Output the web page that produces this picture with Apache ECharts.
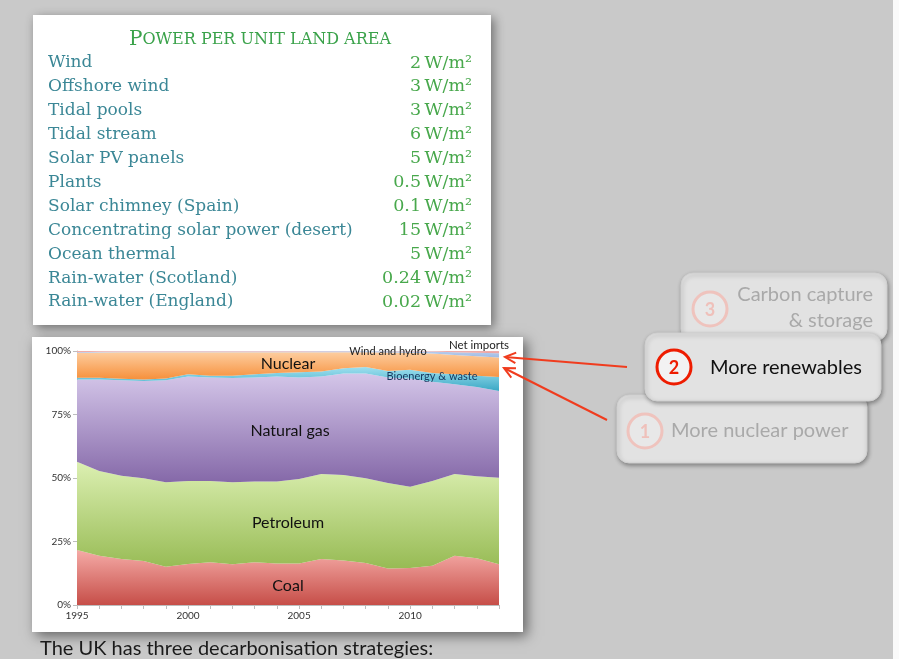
<!DOCTYPE html>
<html>
<head>
<meta charset="utf-8">
<script src="https://cdn.jsdelivr.net/npm/echarts@6/dist/echarts.min.js"></script>
<style>
  html, body { margin: 0; padding: 0; background: #c9c9c9; }
  #main { width: 899px; height: 659px; }
</style>
</head>
<body>
<div id="main"></div>
<script>
// UK primary energy mix, share in %
const years = ['1995','1996','1997','1998','1999','2000','2001','2002','2003','2004',
               '2005','2006','2007','2008','2009','2010','2011','2012','2013','2014'];
const coal      = [21.7,19.4,18.1,17.3,15.1,16.1,16.8,16.0,16.8,16.3,16.3,18.1,17.5,16.5,14.4,14.6,15.5,19.4,18.4,16.0];
const petroleum = [34.7,33.4,32.8,32.6,33.2,32.7,32.0,32.3,31.8,32.3,33.3,33.5,33.7,33.4,33.6,32.0,33.3,32.2,32.3,34.1];
const gas       = [32.4,36.0,37.6,38.3,40.2,41.2,40.8,41.1,41.0,41.4,40.0,38.4,39.9,41.2,41.6,42.6,39.1,35.3,35.1,34.2];
const bioenergy = [0.7,0.7,0.6,0.6,0.7,0.8,0.7,0.9,1.2,1.3,2.0,1.9,2.1,2.6,2.5,3.4,3.4,3.9,4.5,5.5];
const nuclear   = [9.7,9.9,10.4,10.7,10.3,8.7,9.2,9.2,8.7,8.2,7.9,7.6,6.3,5.8,7.3,6.7,7.7,7.6,7.6,7.6];
const windHydro = [0.3,0.3,0.3,0.3,0.3,0.3,0.3,0.3,0.3,0.3,0.3,0.4,0.4,0.4,0.5,0.5,0.8,1.1,1.4,1.7];
const netImports= [0.5,0.3,0.2,0.2,0.2,0.2,0.2,0.2,0.2,0.2,0.2,0.1,0.1,0.0,0.1,0.2,0.2,0.5,0.7,0.9];
const yTicks = [0, 25, 50, 75, 100];

// power per unit land area table
const sources = ['Wind','Offshore wind','Tidal pools','Tidal stream','Solar PV panels','Plants',
                 'Solar chimney (Spain)','Concentrating solar power (desert)','Ocean thermal',
                 'Rain-water (Scotland)','Rain-water (England)'];
const densities = ['2','3','3','6','5','0.5','0.1','15','5','0.24','0.02'];

const strategies = ['More nuclear power', 'More renewables', 'Carbon capture\n& storage'];

const chart = echarts.init(document.getElementById('main'));

function grad(top, bottom) {
  return new echarts.graphic.LinearGradient(0, 0, 0, 1, [
    { offset: 0, color: top },
    { offset: 1, color: bottom }
  ]);
}

function area(name, data, top, bottom) {
  return {
    name: name,
    type: 'line',
    stack: 'total',
    data: data,
    symbol: 'none',
    lineStyle: { width: 0 },
    areaStyle: { color: grad(top, bottom), opacity: 1 },
    silent: true
  };
}

const serif = '"DejaVu Serif", "Liberation Serif", serif';
const sans = 'Lato, "Open Sans", sans-serif';

const graphics = [];

// right white strip
graphics.push({ type: 'rect', z: -10, shape: { x: 893, y: 0, width: 6, height: 659 }, style: { fill: '#fafafa' } });

// table card
graphics.push({
  type: 'rect', z: -5,
  shape: { x: 33, y: 15, width: 458, height: 310 },
  style: { fill: '#fff', shadowBlur: 10, shadowColor: 'rgba(0,0,0,0.45)', shadowOffsetX: 3, shadowOffsetY: 3 }
});
graphics.push({
  type: 'text', z: 5, x: 260, y: 40,
  style: {
    text: '{a|P}{b|OWER PER UNIT LAND AREA}',
    textAlign: 'center', verticalAlign: 'middle',
    rich: {
      a: { fontFamily: serif, fontSize: 20, fill: '#3aa24a' },
      b: { fontFamily: serif, fontSize: 16, fill: '#3aa24a' }
    }
  }
});
sources.forEach(function (s, i) {
  const y = 63 + i * 23.9;
  graphics.push({
    type: 'text', z: 5, x: 48, y: y,
    style: { text: s, fontFamily: serif, fontSize: 17, fill: '#3b8796', verticalAlign: 'middle', textAlign: 'left' }
  });
  graphics.push({
    type: 'text', z: 5, x: 472, y: y,
    style: { text: densities[i] + '\u2009W/m\u00b2', fontFamily: serif, fontSize: 17.5, fill: '#48a84c', verticalAlign: 'middle', textAlign: 'right' }
  });
});

// chart card
graphics.push({
  type: 'rect', z: -5,
  shape: { x: 32, y: 337, width: 491, height: 295 },
  style: { fill: '#fff', shadowBlur: 12, shadowColor: 'rgba(0,0,0,0.5)', shadowOffsetX: 4, shadowOffsetY: 4 }
});

// labels inside the chart
function chartLabel(text, x, y, size, color) {
  graphics.push({
    type: 'text', z: 50, x: x, y: y,
    style: { text: text, fontFamily: sans, fontSize: size, fill: color || '#111', textAlign: 'center', verticalAlign: 'middle' }
  });
}
chartLabel('Nuclear', 288, 364, 16);
chartLabel('Natural gas', 290, 431, 16);
chartLabel('Petroleum', 288, 523, 16);
chartLabel('Coal', 288, 586, 16);
chartLabel('Wind and hydro', 388, 351, 11, '#222');
chartLabel('Net imports', 479, 345, 11.5, '#222');
chartLabel('Bioenergy & waste', 432, 376, 11, '#17375e');

// strategy boxes: 3, 1, 2 (drawing order)
function box(x, y, w, h) {
  graphics.push({
    type: 'rect', z: 20,
    shape: { x: x, y: y, width: w, height: h, r: 12 },
    style: { fill: '#e2e2e2', stroke: '#d0d0d0', lineWidth: 1, shadowBlur: 4, shadowColor: 'rgba(0,0,0,0.35)', shadowOffsetX: 1, shadowOffsetY: 2 }
  });
}
function badge(cx, cy, num, active) {
  graphics.push({
    type: 'circle', z: 21,
    shape: { cx: cx, cy: cy, r: 17 },
    style: { fill: active ? '#f2f2f2' : '#e8e8e8', stroke: active ? '#ee1c00' : '#efc3bd', lineWidth: 3 }
  });
  graphics.push({
    type: 'text', z: 22, x: cx, y: cy + 1,
    style: { text: num, fontFamily: sans, fontWeight: 'bold', fontSize: 18, fill: active ? '#ee1c00' : '#efc0ba', textAlign: 'center', verticalAlign: 'middle' }
  });
}
box(681, 273, 206, 68);
badge(710, 309, '3', false);
graphics.push({
  type: 'text', z: 22, x: 873, y: 308,
  style: { text: strategies[2], fontFamily: sans, fontSize: 20, lineHeight: 26, fill: '#a9a9a9', textAlign: 'right', verticalAlign: 'middle' }
});
box(617, 395, 250, 68);
badge(645, 431, '1', false);
graphics.push({
  type: 'text', z: 22, x: 671, y: 431,
  style: { text: strategies[0], fontFamily: sans, fontSize: 20, fill: '#a9a9a9', textAlign: 'left', verticalAlign: 'middle' }
});
box(645, 333, 236, 68);
badge(674, 367, '2', true);
graphics.push({
  type: 'text', z: 22, x: 710, y: 368,
  style: { text: strategies[1], fontFamily: sans, fontSize: 20, fill: '#111', textAlign: 'left', verticalAlign: 'middle' }
});

// red arrows pointing at the top of the chart
function arrow(x1, y1, x2, y2) {
  const ang = Math.atan2(y2 - y1, x2 - x1);
  const len = 12, spread = 0.45;
  graphics.push({
    type: 'line', z: 60,
    shape: { x1: x1, y1: y1, x2: x2, y2: y2 },
    style: { stroke: '#f03c1e', lineWidth: 2 }
  });
  graphics.push({
    type: 'polyline', z: 60,
    shape: { points: [
      [x2 - len * Math.cos(ang - spread), y2 - len * Math.sin(ang - spread)],
      [x2, y2],
      [x2 - len * Math.cos(ang + spread), y2 - len * Math.sin(ang + spread)]
    ] },
    style: { stroke: '#f03c1e', lineWidth: 2, fill: null }
  });
}
arrow(627, 367, 505, 357);
arrow(607, 420, 504, 368);

// bottom caption
graphics.push({
  type: 'text', z: 5, x: 40, y: 649,
  style: { text: 'The UK has three decarbonisation strategies:', fontFamily: sans, fontSize: 20, fill: '#1a1a1a', verticalAlign: 'middle' }
});

const option = {
  backgroundColor: '#c9c9c9',
  animation: false,
  grid: { left: 77, top: 351, width: 422, height: 254 },
  xAxis: {
    type: 'category',
    data: years,
    boundaryGap: false,
    axisLine: { lineStyle: { color: '#bdbdbd' } },
    axisTick: { show: true, interval: 0, length: 4, lineStyle: { color: '#bdbdbd' } },
    axisLabel: { interval: 4, color: '#333', fontSize: 10, fontFamily: sans, margin: 6 },
    splitLine: { show: false }
  },
  yAxis: {
    type: 'value',
    min: yTicks[0],
    max: yTicks[yTicks.length - 1],
    interval: 25,
    axisLine: { show: true, lineStyle: { color: '#bdbdbd' } },
    axisTick: { show: true, length: 4, lineStyle: { color: '#bdbdbd' } },
    axisLabel: { formatter: '{value}%', color: '#333', fontSize: 10, fontFamily: sans, margin: 6 },
    splitLine: { show: false }
  },
  graphic: graphics,
  series: [
    area('Coal', coal, '#f5aba7', '#c64e48'),
    area('Petroleum', petroleum, '#dcf0b2', '#97bb54'),
    area('Natural gas', gas, '#d4c6e9', '#8265a6'),
    area('Bioenergy & waste', bioenergy, '#9fe0ef', '#3ba8c5'),
    area('Nuclear', nuclear, '#fdcd9f', '#f6903b'),
    area('Wind and hydro', windHydro, '#b5cdef', '#a0bbe3'),
    area('Net imports', netImports, '#f2b0ae', '#eaa09e')
  ]
};

chart.setOption(option);
</script>
</body>
</html>
